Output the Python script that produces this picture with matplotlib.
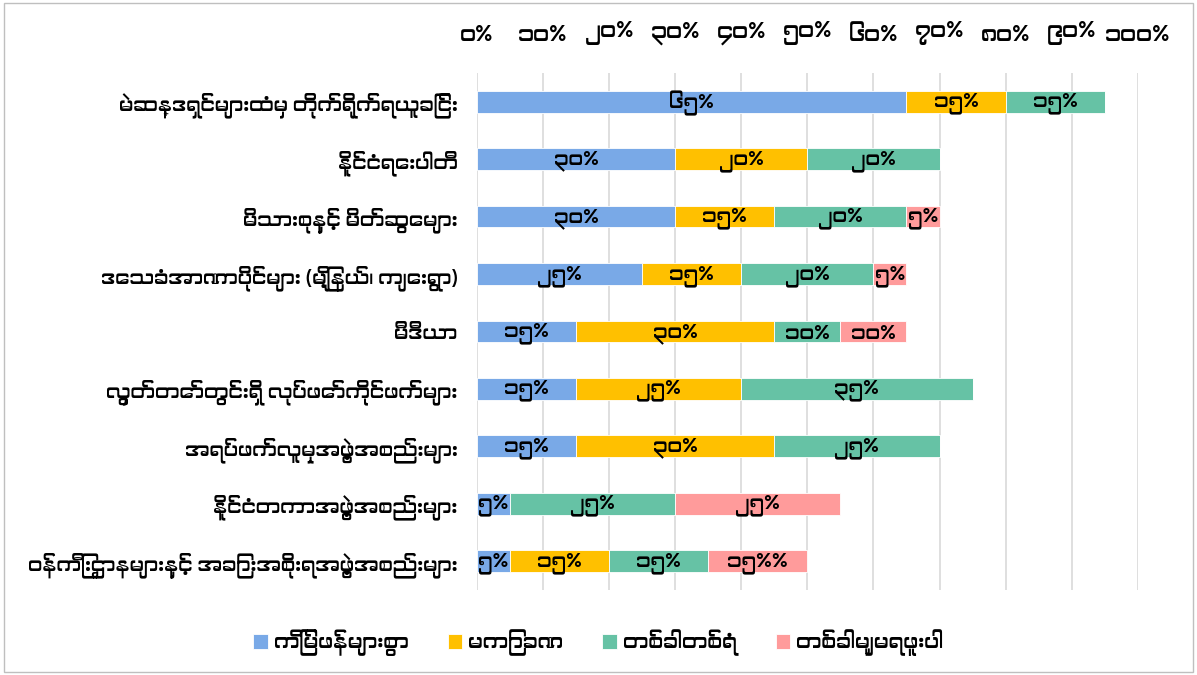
#!/usr/bin/env python3
"""Stacked horizontal bar chart (Burmese survey: sources of information / trust)."""

import numpy as np
import matplotlib
matplotlib.use("Agg")
import matplotlib.pyplot as plt
from matplotlib import font_manager
from matplotlib.patches import Rectangle


# ---------- Data -------------------------------------------------------------

categories = [
    "မဲဆန္ဒရှင်များထံမှ တိုက်ရိုက်ရယူခြင်း",
    "နိုင်ငံရေးပါတီ",
    "မိသားစုနှင့် မိတ်ဆွေများ",
    "ဒေသခံအာဏာပိုင်များ (မြို့နယ်၊ ကျေးရွာ)",
    "မီဒီယာ",
    "လွှတ်တော်တွင်းရှိ လုပ်ဖော်ကိုင်ဖက်များ",
    "အရပ်ဖက်လူမှုအဖွဲ့အစည်းများ",
    "နိုင်ငံတကာအဖွဲ့အစည်းများ",
    "ဝန်ကြီးဌာနများနှင့် အခြားအစိုးရအဖွဲ့အစည်းများ",
]

series_names = ["ကြိမ်ဖန်များစွာ", "မကြာခဏ", "တစ်ခါတစ်ရံ", "တစ်ခါမျှမရဖူးပါ"]

often_many = [65, 30, 30, 25, 15, 15, 15, 5, 5]
often      = [15, 20, 15, 15, 30, 25, 30, 0, 15]
sometimes  = [15, 20, 20, 20, 10, 35, 25, 25, 15]
never      = [0, 0, 5, 5, 10, 0, 0, 25, 15]

# labels as printed on the bars (Burmese digits); None = no label
labels_many = ["၆၅%", "၃၀%", "၃၀%", "၂၅%", "၁၅%", "၁၅%", "၁၅%", "၅%", "၅%"]
labels_often = ["၁၅%", "၂၀%", "၁၅%", "၁၅%", "၃၀%", "၂၅%", "၃၀%", None, "၁၅%"]
labels_some = ["၁၅%", "၂၀%", "၂၀%", "၂၀%", "၁၀%", "၃၅%", "၂၅%", "၂၅%", "၁၅%"]
labels_never = [None, None, "၅%", "၅%", "၁၀%", None, None, "၂၅%", "၁၅%%"]

tick_values = [0, 10, 20, 30, 40, 50, 60, 70, 80, 90, 100]
tick_labels = ["၀%", "၁၀%", "၂၀%", "၃၀%", "၄၀%", "၅၀%", "၆၀%", "၇၀%", "၈၀%", "၉၀%", "၁၀၀%"]

colours = ["#79A9E7", "#FFC000", "#66C2A5", "#FF9B9B"]


# ---------- Font -------------------------------------------------------------

def pick_font():
    """Use a Myanmar-capable font if one happens to be installed."""
    for f in font_manager.fontManager.ttflist:
        if any(k in f.name for k in ("Myanmar", "Padauk", "Pyidaungsu")):
            return [f.name, "DejaVu Sans"]
    return ["DejaVu Sans"]


plt.rcParams["font.family"] = pick_font()


# ---------- Plot -------------------------------------------------------------

fig = plt.figure(figsize=(11.97, 6.75), dpi=100)
ax = fig.add_axes([0.3985, 0.126, 0.552, 0.766])

y = np.arange(len(categories))
left = np.zeros(len(categories))
series = [often_many, often, sometimes, never]
series_labels = [labels_many, labels_often, labels_some, labels_never]

for vals, labs, name, col in zip(series, series_labels, series_names, colours):
    vals = np.array(vals, dtype=float)
    ax.barh(y, vals, left=left, height=0.38, color=col, label=name,
            edgecolor="white", linewidth=0.6, zorder=3)
    for yi, (l, v, t) in enumerate(zip(left, vals, labs)):
        if t and v > 0:
            ax.text(l + v / 2, yi + 0.03, t, ha="center", va="center",
                    fontsize=14.5, color="black", zorder=4)
    left += vals

ax.set_xlim(0, 100)
ax.set_ylim(len(categories) - 0.5, -0.5)
ax.set_yticks(y, categories, fontsize=14.2)
ax.set_xticks(tick_values, tick_labels, fontsize=16)
ax.xaxis.tick_top()
ax.tick_params(axis="x", length=0, pad=20)
ax.tick_params(axis="y", length=0, pad=14)
ax.grid(axis="x", color="#d9d9d9", linewidth=1.2, zorder=0)
for s in ax.spines.values():
    s.set_visible(False)

fig.legend(loc="lower center", bbox_to_anchor=(0.5, 0.0), ncol=4,
           frameon=False, fontsize=14.8, handlelength=0.7, handleheight=0.7,
           handletextpad=0.3, columnspacing=1.9)

# light frame around whole chart
fig.patches.append(Rectangle((0.003, 0.004), 0.994, 0.992, transform=fig.transFigure,
                             fill=False, edgecolor="#bfbfbf", linewidth=1.0))

fig.savefig("out.png", dpi=100)
